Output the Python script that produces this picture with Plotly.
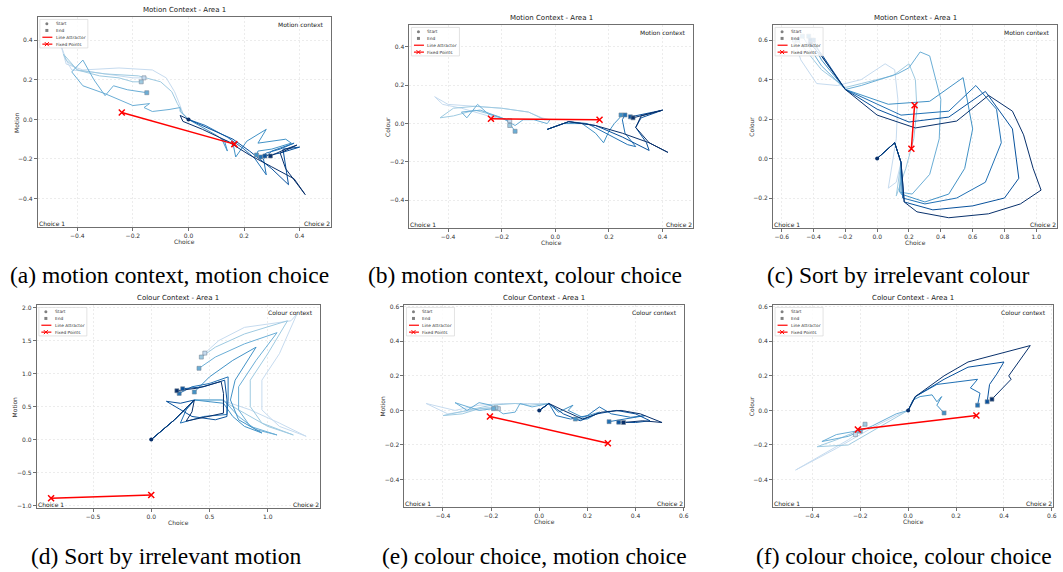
import plotly.graph_objects as go

BLUES = ['#c6dbef', '#9ecae1', '#6baed6', '#4292c6', '#2171b5', '#08519c', '#08306b']

# ---------------- Panel (a): motion context, choice vs motion ----------------
A_X = [
    [0, -0.02, -0.03, -0.05, -0.08, -0.13, -0.25, -0.38, -0.44, -0.46, -0.44, -0.42, -0.35, -0.25, -0.2, -0.16],
    [0, -0.02, -0.04, -0.06, -0.1, -0.18, -0.3, -0.4, -0.44, -0.45, -0.4, -0.32, -0.25, -0.2, -0.17],
    [0, -0.03, -0.03, -0.07, -0.13, -0.16, -0.14, -0.2, -0.3, -0.38, -0.42, -0.38, -0.34, -0.3, -0.27, -0.22, -0.15],
    [0, 0.05, 0.1, 0.13, 0.14, 0.12, 0.16, 0.17, 0.21, 0.28, 0.25, 0.35, 0.37, 0.3, 0.25, 0.245],
    [0, 0.06, 0.14, 0.2, 0.24, 0.28, 0.27, 0.3, 0.38, 0.33, 0.28, 0.26],
    [0, 0.08, 0.16, 0.22, 0.3, 0.36, 0.35, 0.34, 0.4, 0.33, 0.275],
    [0, -0.03, -0.02, 0.05, 0.14, 0.22, 0.3, 0.38, 0.42, 0.35, 0.33, 0.39, 0.35, 0.295],
]
A_Y = [
    [0, 0.03, 0.07, 0.14, 0.21, 0.25, 0.26, 0.25, 0.28, 0.38, 0.3, 0.25, 0.24, 0.22, 0.21, 0.21],
    [0, 0.03, 0.08, 0.14, 0.19, 0.22, 0.23, 0.25, 0.3, 0.33, 0.25, 0.22, 0.21, 0.19, 0.19],
    [0, 0.04, 0.06, 0.05, 0.04, 0.06, 0.08, 0.07, 0.13, 0.17, 0.24, 0.3, 0.2, 0.12, 0.17, 0.15, 0.135],
    [0, -0.04, -0.08, -0.11, -0.16, -0.1, -0.12, -0.19, -0.11, -0.05, -0.12, -0.1, -0.12, -0.15, -0.16, -0.18],
    [0, -0.03, -0.09, -0.15, -0.2, -0.28, -0.2, -0.16, -0.12, -0.15, -0.17, -0.19],
    [0, -0.05, -0.1, -0.16, -0.25, -0.33, -0.25, -0.15, -0.14, -0.17, -0.185],
    [0, 0.02, -0.01, -0.05, -0.11, -0.18, -0.24, -0.3, -0.38, -0.25, -0.17, -0.13, -0.15, -0.185],
]
A_START = ([0], [0])
A_LA = ([-0.24, 0.165], [0.035, -0.125])

# ---------------- Panel (b): motion context, choice vs colour ----------------
B_X = [
    [-0.02, -0.05, -0.1, -0.2, -0.3, -0.4, -0.45, -0.42, -0.35, -0.25, -0.17],
    [-0.02, -0.04, -0.1, -0.2, -0.3, -0.38, -0.43, -0.38, -0.3, -0.22, -0.18, -0.17],
    [-0.02, -0.03, -0.08, -0.12, -0.15, -0.2, -0.28, -0.35, -0.33, -0.29, -0.25, -0.18, -0.15],
    [-0.03, 0.03, 0.1, 0.15, 0.18, 0.2, 0.22, 0.24, 0.245],
    [-0.03, 0.05, 0.12, 0.2, 0.27, 0.3, 0.26, 0.25, 0.26],
    [-0.03, 0.05, 0.15, 0.25, 0.35, 0.34, 0.3, 0.32, 0.4, 0.28],
    [-0.03, 0.05, 0.15, 0.25, 0.35, 0.42, 0.35, 0.3, 0.32, 0.4, 0.29],
]
B_Y = [
    [0.02, 0.03, 0.06, 0.08, 0.09, 0.1, 0.14, 0.1, 0.08, 0.04, 0.015],
    [0.02, 0.02, 0.06, 0.08, 0.09, 0.08, 0.03, 0.04, 0.07, 0.04, 0.02, -0.01],
    [0.02, 0.0, 0.02, 0.02, -0.01, 0.03, 0.07, 0.06, 0.03, 0.1, 0.05, 0.02, -0.04],
    [-0.03, 0.0, 0.0, -0.05, -0.1, -0.04, 0.0, 0.03, 0.045],
    [-0.03, 0.01, 0.0, -0.06, -0.11, -0.12, -0.05, 0.02, 0.045],
    [-0.03, 0.01, -0.01, -0.07, -0.14, -0.1, -0.02, 0.03, 0.07, 0.035],
    [-0.03, 0.01, -0.01, -0.05, -0.1, -0.15, -0.1, -0.02, 0.04, 0.07, 0.03],
]
B_START = ([], [])
B_LA = ([-0.24, 0.165], [0.025, 0.02])

# ---------------- Panel (c): sort by irrelevant colour ----------------
C_X = [
    [0, 0.11, 0.15, 0.12, 0.07, 0.09, 0.12, 0.13, 0.11, 0.05, -0.1, -0.25, -0.38, -0.48, -0.52],
    [0, 0.11, 0.15, 0.13, 0.12, 0.18, 0.23, 0.25, 0.24, 0.2, 0.1, -0.1, -0.2, -0.35, -0.5],
    [0, 0.11, 0.15, 0.14, 0.22, 0.33, 0.39, 0.4, 0.33, 0.27, 0.2, 0.13, -0.1, -0.2, -0.35, -0.47],
    [0, 0.11, 0.15, 0.15, 0.3, 0.45, 0.55, 0.6, 0.54, 0.33, 0.07, -0.2, -0.35, -0.43],
    [0, 0.11, 0.15, 0.16, 0.3, 0.5, 0.68, 0.78, 0.75, 0.62, 0.45, 0.15, -0.2, -0.35, -0.4],
    [0, 0.11, 0.15, 0.17, 0.35, 0.6, 0.8, 0.89, 0.85, 0.68, 0.45, 0.2, 0.0, -0.2, -0.35, -0.42],
    [0, 0.11, 0.15, 0.17, 0.25, 0.45, 0.7, 0.9, 1.03, 0.98, 0.92, 0.85, 0.7, 0.5, 0.24, 0.0, -0.2, -0.35, -0.42],
]
C_Y = [
    [0, 0.08, -0.02, -0.12, -0.15, -0.05, 0.1, 0.3, 0.45, 0.48, 0.4, 0.37, 0.38, 0.5, 0.6],
    [0, 0.08, -0.02, -0.15, -0.19, -0.05, 0.1, 0.25, 0.4, 0.48, 0.42, 0.38, 0.36, 0.45, 0.6],
    [0, 0.08, -0.02, -0.17, -0.18, -0.08, 0.1, 0.3, 0.52, 0.54, 0.46, 0.43, 0.37, 0.35, 0.47, 0.62],
    [0, 0.08, -0.02, -0.18, -0.22, -0.18, -0.05, 0.15, 0.41, 0.29, 0.275, 0.35, 0.5, 0.62],
    [0, 0.08, -0.02, -0.2, -0.23, -0.2, -0.12, 0.08, 0.25, 0.37, 0.24, 0.22, 0.35, 0.52, 0.6],
    [0, 0.08, -0.02, -0.22, -0.26, -0.24, -0.2, -0.1, 0.15, 0.34, 0.21, 0.185, 0.25, 0.35, 0.53, 0.6],
    [0, 0.08, -0.02, -0.22, -0.27, -0.3, -0.28, -0.23, -0.16, -0.05, 0.12, 0.24, 0.32, 0.19, 0.155, 0.22, 0.35, 0.52, 0.58],
]
C_START = ([0], [0])
C_LA = ([0.215, 0.235], [0.05, 0.27])

# ---------------- Panel (d): sort by irrelevant motion ----------------
D_X = [
    [0, 0.2, 0.37, 0.6, 0.85, 1.1, 1.33, 1.1, 0.95, 0.95, 1.1, 1.25, 1.2, 0.8, 0.58, 0.46],
    [0, 0.2, 0.37, 0.6, 0.8, 1.0, 1.22, 0.95, 0.85, 0.85, 1.0, 1.17, 0.8, 0.55, 0.43],
    [0, 0.2, 0.37, 0.62, 0.75, 0.9, 1.08, 0.85, 0.75, 0.75, 0.9, 1.08, 0.8, 0.55, 0.41],
    [0, 0.2, 0.37, 0.62, 0.7, 0.8, 0.95, 0.75, 0.68, 0.72, 0.9, 0.7, 0.5, 0.37],
    [0, 0.2, 0.37, 0.3, 0.25, 0.45, 0.65, 0.66, 0.66, 0.5, 0.35, 0.24],
    [0, 0.2, 0.37, 0.25, 0.13, 0.35, 0.55, 0.65, 0.65, 0.63, 0.45, 0.27],
    [0, 0.2, 0.37, 0.35, 0.3, 0.5, 0.62, 0.62, 0.6, 0.4, 0.22],
]
D_Y = [
    [0, 0.3, 0.6, 0.6, 0.45, 0.25, 0.05, 0.2, 0.45, 0.9, 1.3, 1.9, 1.8, 1.7, 1.5, 1.31],
    [0, 0.3, 0.6, 0.6, 0.4, 0.2, 0.07, 0.25, 0.5, 0.9, 1.3, 1.8, 1.6, 1.4, 1.25],
    [0, 0.3, 0.6, 0.6, 0.35, 0.15, 0.07, 0.2, 0.45, 0.8, 1.2, 1.62, 1.45, 1.25, 1.08],
    [0, 0.3, 0.6, 0.55, 0.35, 0.2, 0.1, 0.3, 0.6, 0.9, 1.4, 1.2, 0.95, 0.72],
    [0, 0.3, 0.6, 0.45, 0.25, 0.35, 0.38, 0.6, 0.95, 0.85, 0.8, 0.7],
    [0, 0.3, 0.6, 0.55, 0.58, 0.35, 0.3, 0.35, 0.6, 0.9, 0.8, 0.77],
    [0, 0.3, 0.6, 0.42, 0.28, 0.35, 0.4, 0.7, 0.88, 0.78, 0.74],
]
D_START = ([0], [0])
D_LA = ([-0.86, 0.0], [-0.89, -0.84])

# ---------------- Panel (e): colour context, choice vs motion ----------------
E_X = [
    [0, 0.04, -0.05, -0.15, -0.25, -0.35, -0.47, -0.38, -0.28, -0.2, -0.17],
    [0, 0.04, -0.04, -0.1, -0.2, -0.3, -0.4, -0.32, -0.25, -0.18],
    [0, 0.04, -0.03, -0.08, -0.1, -0.15, -0.2, -0.25, -0.3, -0.35, -0.25, -0.19],
    [0, 0.04, 0.08, 0.14, 0.12, 0.18, 0.25, 0.2, 0.15],
    [0, 0.04, 0.07, 0.13, 0.2, 0.25, 0.3, 0.38, 0.44, 0.35, 0.29],
    [0, 0.04, 0.1, 0.17, 0.24, 0.32, 0.4, 0.46, 0.4, 0.33],
    [0, 0.04, 0.1, 0.18, 0.26, 0.34, 0.42, 0.51, 0.43, 0.35],
]
E_Y = [
    [0, 0.04, 0.04, 0.04, 0.03, 0.0, 0.04, -0.02, 0.0, 0.02, 0.01],
    [0, 0.04, 0.03, 0.04, 0.03, 0.0, -0.03, -0.02, 0.01, 0.015],
    [0, 0.04, 0.02, 0.04, -0.01, -0.02, 0.03, 0.045, 0.0, 0.045, 0.0, 0.01],
    [0, 0.04, -0.01, 0.03, 0.0, -0.04, -0.01, -0.05, -0.05],
    [0, 0.04, -0.03, -0.05, -0.03, 0.02, -0.02, -0.04, -0.03, -0.05, -0.065],
    [0, 0.04, -0.02, -0.06, -0.02, 0.0, -0.02, -0.06, -0.07, -0.068],
    [0, 0.04, 0.0, -0.05, -0.01, 0.0, -0.02, -0.07, -0.06, -0.07],
]
E_START = ([0], [0])
E_LA = ([-0.205, 0.285], [-0.035, -0.19])

# ---------------- Panel (f): colour context, choice vs colour ----------------
F_X = [
    [0, -0.05, -0.15, -0.3, -0.47, -0.35, -0.25, -0.22],
    [0, -0.05, -0.15, -0.25, -0.38, -0.3, -0.23, -0.18],
    [0, -0.05, -0.15, -0.25, -0.36, -0.3, -0.22, -0.2],
    [0, 0.02, 0.05, 0.1, 0.12, 0.14, 0.12, 0.15],
    [0, 0.02, 0.03, 0.12, 0.29, 0.26, 0.3, 0.29],
    [0, 0.02, 0.03, 0.15, 0.25, 0.4, 0.37, 0.34, 0.33],
    [0, 0.02, 0.03, 0.15, 0.25, 0.51, 0.42, 0.43, 0.35],
]
F_Y = [
    [0, -0.03, -0.1, -0.22, -0.345, -0.25, -0.17, -0.14],
    [0, -0.04, -0.12, -0.2, -0.21, -0.17, -0.13, -0.08],
    [0, -0.02, -0.09, -0.15, -0.18, -0.14, -0.12, -0.12],
    [0, 0.06, 0.08, 0.09, 0.05, 0.08, 0.03, -0.015],
    [0, 0.06, 0.08, 0.15, 0.18, 0.13, 0.1, 0.03],
    [0, 0.06, 0.08, 0.18, 0.25, 0.28, 0.21, 0.15, 0.05],
    [0, 0.06, 0.08, 0.2, 0.28, 0.375, 0.2, 0.18, 0.065],
]
F_START = ([0], [0])
F_LA = ([-0.21, 0.285], [-0.11, -0.03])

TITLES = ['Motion Context - Area 1'] * 3 + ['Colour Context - Area 1'] * 3
YLABELS = ['Motion', 'Colour', 'Colour', 'Motion', 'Motion', 'Colour']
CONTEXT = ['Motion context'] * 3 + ['Colour context'] * 3
CAPTIONS = ['(a) motion context, motion choice', '(b) motion context, colour choice',
            '(c) Sort by irrelevant colour', '(d) Sort by irrelevant motion',
            '(e) colour choice, motion choice', '(f) colour choice, colour choice']

XRANGES = [[-0.542, 0.512], [-0.544, 0.515], [-0.654, 1.13], [-0.982, 1.447], [-0.56, 0.603], [-0.564, 0.605]]
YRANGES = [[-0.545, 0.518], [-0.545, 0.514], [-0.353, 0.677], [-1.04, 2.04], [-0.56, 0.61], [-0.56, 0.61]]
XTICKS = [[-0.4, -0.2, 0.0, 0.2, 0.4], [-0.4, -0.2, 0.0, 0.2, 0.4],
          [-0.6, -0.4, -0.2, 0.0, 0.2, 0.4, 0.6, 0.8, 1.0], [-0.5, 0.0, 0.5, 1.0],
          [-0.4, -0.2, 0.0, 0.2, 0.4, 0.6], [-0.4, -0.2, 0.0, 0.2, 0.4, 0.6]]
YTICKS = [[-0.4, -0.2, 0.0, 0.2, 0.4], [-0.4, -0.2, 0.0, 0.2, 0.4],
          [-0.2, 0.0, 0.2, 0.4, 0.6], [-1.0, -0.5, 0.0, 0.5, 1.0, 1.5, 2.0],
          [-0.4, -0.2, 0.0, 0.2, 0.4, 0.6], [-0.4, -0.2, 0.0, 0.2, 0.4, 0.6]]

W, H = 1063, 572
# plot-area pixel boxes: left, right, top, bottom
BOXES = [(38, 332, 15, 226), (411, 696, 23, 227), (776, 1061, 23, 227),
         (37, 321, 304, 508), (406, 687, 304, 507), (776, 1057, 304, 507)]
CAP_POS = [(170, 274), (527, 274), (901, 274), (167, 556), (537, 556), (907, 556)]

PANELS = [(A_X, A_Y, A_START, A_LA), (B_X, B_Y, B_START, B_LA), (C_X, C_Y, C_START, C_LA),
          (D_X, D_Y, D_START, D_LA), (E_X, E_Y, E_START, E_LA), (F_X, F_Y, F_START, F_LA)]

FONT = 'DejaVu Sans'


def fmt(v):
    s = f'{v:.1f}'
    if s == '-0.0':
        s = '0.0'
    return s.replace('-', '\u2212')


fig = go.Figure()
shapes = []
annotations = []
layout = {}

for i, (PX, PY, START, LA) in enumerate(PANELS):
    sfx = '' if i == 0 else str(i + 1)
    xa, ya = 'x' + sfx, 'y' + sfx
    n = len(PX)
    for k in range(n):
        fig.add_trace(go.Scatter(x=PX[k], y=PY[k], mode='lines',
                                 line=dict(color=BLUES[k], width=1),
                                 xaxis=xa, yaxis=ya, showlegend=False, hoverinfo='skip'))
    fig.add_trace(go.Scatter(x=[p[-1] for p in PX], y=[p[-1] for p in PY], mode='markers',
                             marker=dict(symbol='square', size=4, color=BLUES[:n],
                                         line=dict(color='#7a8a9a', width=0.6)),
                             xaxis=xa, yaxis=ya, showlegend=False, hoverinfo='skip'))
    if START[0]:
        fig.add_trace(go.Scatter(x=START[0], y=START[1], mode='markers',
                                 marker=dict(symbol='circle', size=4, color='#08306b'),
                                 xaxis=xa, yaxis=ya, showlegend=False, hoverinfo='skip'))
    fig.add_trace(go.Scatter(x=LA[0], y=LA[1], mode='lines+markers',
                             line=dict(color='#ff0000', width=1.5),
                             marker=dict(symbol='x-thin', size=6, line=dict(color='#ff0000', width=1.5)),
                             xaxis=xa, yaxis=ya, showlegend=False, hoverinfo='skip'))

    l, r, t, b = BOXES[i]
    axcommon = dict(showline=True, mirror=True, linecolor='#6f6f6f', linewidth=1,
                    ticks='outside', ticklen=3, tickwidth=0.8, tickcolor='#6f6f6f',
                    tickfont=dict(size=6, color='#333333', family=FONT),
                    showgrid=True, gridcolor='#ececec', griddash='2px,2px', gridwidth=0.8,
                    zeroline=False, fixedrange=True)
    layout['xaxis' + sfx] = dict(domain=[l / W, r / W], range=XRANGES[i], anchor=ya,
                                 tickvals=XTICKS[i], ticktext=[fmt(v) for v in XTICKS[i]], **axcommon)
    layout['yaxis' + sfx] = dict(domain=[1 - b / H, 1 - t / H], range=YRANGES[i], anchor=xa,
                                 tickvals=YTICKS[i], ticktext=[fmt(v) for v in YTICKS[i]], **axcommon)

    xd, yd = xa + ' domain', ya + ' domain'
    annotations.append(dict(text=TITLES[i], x=0.5, y=1, xref=xd, yref=yd, xanchor='center',
                            yanchor='bottom', yshift=1, showarrow=False,
                            font=dict(size=7, family=FONT, color='#222222')))
    annotations.append(dict(text='Choice', x=0.5, y=0, xref=xd, yref=yd, xanchor='center',
                            yanchor='middle', yshift=-14, showarrow=False,
                            font=dict(size=6, family=FONT, color='#333333')))
    annotations.append(dict(text=YLABELS[i], x=0, y=0.5, xref=xd, yref=yd, xanchor='center',
                            yanchor='middle', xshift=-22, textangle=-90, showarrow=False,
                            font=dict(size=6, family=FONT, color='#333333')))
    annotations.append(dict(text=CONTEXT[i], x=1, y=1, xref=xd, yref=yd, xanchor='right',
                            yanchor='middle', xshift=-5, yshift=-8, showarrow=False,
                            font=dict(size=6, family=FONT, color='#222222')))
    annotations.append(dict(text='Choice 1', x=0, y=0, xref=xd, yref=yd, xanchor='left',
                            yanchor='bottom', xshift=-1, yshift=-2, showarrow=False,
                            font=dict(size=6, family=FONT, color='#222222')))
    annotations.append(dict(text='Choice 2', x=1, y=0, xref=xd, yref=yd, xanchor='right',
                            yanchor='bottom', xshift=1, yshift=-2, showarrow=False,
                            font=dict(size=6, family=FONT, color='#222222')))
    base = dict(xref=xd, yref=yd, xsizemode='pixel', ysizemode='pixel', xanchor=0, yanchor=1)
    shapes.append(dict(type='rect', x0=2, x1=50, y0=-2.5, y1=-31, fillcolor='rgba(255,255,255,0.85)',
                       line=dict(color='#d0d0d0', width=0.6), **base))
    rows = [6.8, 13.5, 20.3, 27.2]
    cx = 9
    shapes.append(dict(type='circle', x0=cx - 1.5, x1=cx + 1.5, y0=-rows[0] - 1.5, y1=-rows[0] + 1.5,
                       fillcolor='#808080', line=dict(width=0), **base))
    shapes.append(dict(type='rect', x0=cx - 1.5, x1=cx + 1.5, y0=-rows[1] - 1.5, y1=-rows[1] + 1.5,
                       fillcolor='#808080', line=dict(width=0), **base))
    shapes.append(dict(type='line', x0=4.5, x1=14.5, y0=-rows[2], y1=-rows[2],
                       line=dict(color='#ff0000', width=1.2), **base))
    shapes.append(dict(type='line', x0=4.5, x1=14.5, y0=-rows[3], y1=-rows[3],
                       line=dict(color='#ff0000', width=1.2), **base))
    shapes.append(dict(type='line', x0=cx - 2, x1=cx + 2, y0=-rows[3] - 2, y1=-rows[3] + 2,
                       line=dict(color='#ff0000', width=1.0), **base))
    shapes.append(dict(type='line', x0=cx - 2, x1=cx + 2, y0=-rows[3] + 2, y1=-rows[3] - 2,
                       line=dict(color='#ff0000', width=1.0), **base))
    for txt, ry in zip(['Start', 'End', 'Line Attractor', 'Fixed Points'], rows):
        annotations.append(dict(text=txt, x=0, y=1, xref=xd, yref=yd, xanchor='left', yanchor='middle',
                                xshift=16, yshift=-ry, showarrow=False,
                                font=dict(size=4.3, family=FONT, color='#333333')))
    cxp, cyp = CAP_POS[i]
    annotations.append(dict(text=CAPTIONS[i], x=cxp / W, y=1 - cyp / H, xref='paper', yref='paper',
                            xanchor='center', yanchor='middle', showarrow=False,
                            font=dict(size=23.5, family='Liberation Serif', color='#000000')))

fig.update_layout(width=W, height=H, autosize=False, margin=dict(l=0, r=0, t=0, b=0),
                  paper_bgcolor='white', plot_bgcolor='white', showlegend=False,
                  shapes=shapes, annotations=annotations, **layout)

fig.write_html('out.html')
